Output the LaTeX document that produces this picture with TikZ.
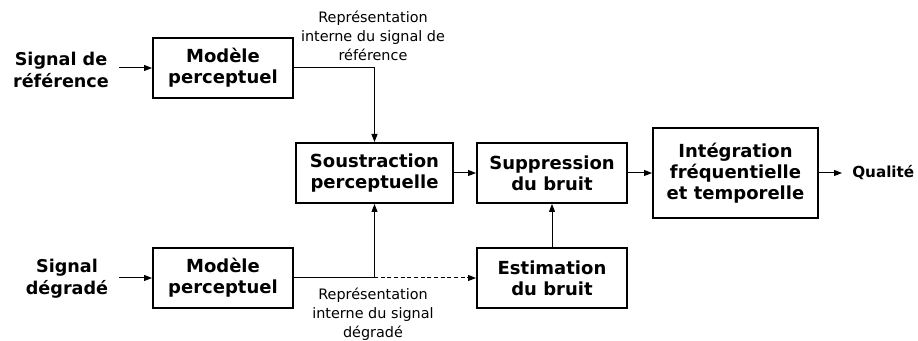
\documentclass[tikz,border=0pt]{standalone}
\usepackage{fontspec}
\setmainfont{DejaVu Sans}
\usetikzlibrary{arrows.meta}
\begin{document}
\begin{tikzpicture}[x=0.75pt,y=-0.75pt,
  blockbox/.style={draw,line width=1.5pt,align=center,inner sep=0pt,
    font=\fontsize{13.5pt}{15.8pt}\selectfont\bfseries},
  sig/.style={align=center,inner sep=0pt,font=\fontsize{13.2pt}{16.5pt}\selectfont\bfseries},
  lab/.style={align=center,inner sep=0pt,font=\fontsize{10.8pt}{14.2pt}\selectfont},
  conn/.style={line width=0.75pt,-{Triangle[length=6pt,width=4.5pt]}}]
\useasboundingbox (0,0) rectangle (918,341);
\node[sig] (sigref) at (61,70) {Signal de\\référence};
\node[sig] (sigdeg) at (67,279) {Signal\\dégradé};
\node[blockbox,minimum width=140*0.75pt,minimum height=60*0.75pt] (mp1) at (223,68) {Modèle\\perceptuel};
\node[blockbox,minimum width=140*0.75pt,minimum height=60*0.75pt] (mp2) at (223,278) {Modèle\\perceptuel};
\node[blockbox,minimum width=157*0.75pt,minimum height=60*0.75pt] (sous) at (374.5,173) {Soustraction\\perceptuelle};
\node[blockbox,minimum width=150*0.75pt,minimum height=60*0.75pt] (supp) at (552,173) {Suppression\\du bruit};
\node[blockbox,minimum width=150*0.75pt,minimum height=60*0.75pt] (est) at (552,278) {Estimation\\du bruit};
\node[blockbox,minimum width=165*0.75pt,minimum height=90*0.75pt] (integ) at (735.5,173) {Intégration\\fréquentielle\\et temporelle};
\node[sig,anchor=west,font=\fontsize{11.4pt}{14pt}\selectfont\bfseries] (qual) at (852,173) {Qualité};
\node[lab] (labref) at (373,36) {Représentation\\interne du signal de\\référence};
\node[lab] (labdeg) at (373,314) {Représentation\\interne du signal\\dégradé};
\coordinate (in1) at (119,68);
\coordinate (in2) at (119,278);
\draw[conn] (in1) -- (mp1.west);
\draw[conn] (in2) -- (mp2.west);
\draw[conn] (mp1.east) -| (sous.north);
\draw[conn] (mp2.east) -| (sous.south);
\draw[conn,dash pattern=on 3pt off 2pt] (mp2.east) -- (est.west);
\draw[conn] (est.north) -- (supp.south);
\draw[conn] (sous.east) -- (supp.west);
\draw[conn] (supp.east) -- (integ.west);
\draw[conn] (integ.east) -- ([xshift=-10*0.75pt]qual.west);
\end{tikzpicture}
\end{document}
